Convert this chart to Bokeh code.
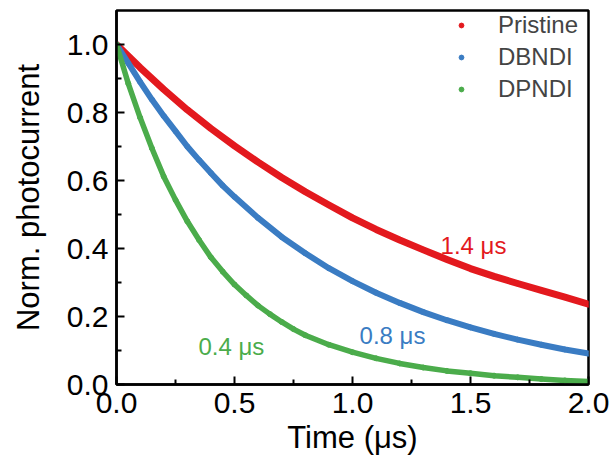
from bokeh.plotting import figure
from bokeh.models import Range1d, FixedTicker, Legend, LegendItem, Label
from bokeh.embed import file_html
from bokeh.resources import INLINE

# ---- data ----
t_red = [0.0, 0.1, 0.2, 0.3, 0.4, 0.5, 0.6, 0.7, 0.8, 0.9, 1.0,
         1.1, 1.2, 1.3, 1.4, 1.5, 1.6, 1.7, 1.8, 1.9, 2.0]
v_red = [1.000, 0.932, 0.868, 0.808, 0.753, 0.702, 0.654, 0.609, 0.567, 0.528, 0.490,
         0.456, 0.425, 0.396, 0.368, 0.341, 0.318, 0.297, 0.277, 0.257, 0.236]

t_blue = [0.0, 0.05, 0.1, 0.15, 0.2, 0.25, 0.3, 0.35, 0.4, 0.45, 0.5,
          0.6, 0.7, 0.8, 0.9, 1.0, 1.1, 1.2, 1.3, 1.4, 1.5, 1.6, 1.7, 1.8, 1.9, 2.0]
v_blue = [1.000, 0.945, 0.890, 0.838, 0.790, 0.745, 0.700, 0.660, 0.622, 0.585, 0.552,
          0.490, 0.434, 0.386, 0.342, 0.304, 0.270, 0.240, 0.213, 0.189, 0.168,
          0.149, 0.132, 0.117, 0.103, 0.091]

t_green = [0.0, 0.05, 0.1, 0.15, 0.2, 0.25, 0.3, 0.35, 0.4, 0.45, 0.5, 0.55, 0.6,
           0.65, 0.7, 0.75, 0.8, 0.9, 1.0, 1.1, 1.2, 1.3, 1.4, 1.5, 1.6, 1.7, 1.8, 1.9, 2.0]
v_green = [1.000, 0.885, 0.785, 0.695, 0.612, 0.543, 0.480, 0.425, 0.374, 0.332, 0.294,
           0.262, 0.232, 0.207, 0.184, 0.163, 0.145, 0.117, 0.095, 0.077, 0.062, 0.050,
           0.040, 0.033, 0.026, 0.021, 0.016, 0.012, 0.009]

series_names = ["Pristine", "DBNDI", "DPNDI"]
series_colors = ["#e3191e", "#3a7cc3", "#4bac4b"]

x_ticks = [0.0, 0.5, 1.0, 1.5, 2.0]
x_minor = [0.25, 0.75, 1.25, 1.75]
y_ticks = [0.0, 0.2, 0.4, 0.6, 0.8, 1.0]
y_minor = [0.1, 0.3, 0.5, 0.7, 0.9]

lifetime_labels = ["1.4 μs", "0.8 μs", "0.4 μs"]
lifetime_x = [1.373, 1.03, 0.347]
lifetime_y = [0.41, 0.144, 0.112]

FONT = "Liberation Sans"

p = figure(frame_width=472, frame_height=374,
           min_border_left=116, min_border_right=26,
           min_border_top=10, min_border_bottom=84,
           x_range=Range1d(0, 2.0), y_range=Range1d(0, 1.1),
           output_backend="svg", toolbar_location=None,
           background_fill_color="white", border_fill_color="white")

p.grid.visible = False
p.outline_line_color = "black"
p.outline_line_width = 2.5
p.outline_line_alpha = 1.0

p.xaxis.ticker = FixedTicker(ticks=x_ticks, minor_ticks=x_minor)
p.yaxis.ticker = FixedTicker(ticks=y_ticks, minor_ticks=y_minor)
p.xaxis.major_label_overrides = {v: f"{v:.1f}" for v in x_ticks}
p.yaxis.major_label_overrides = {v: f"{v:.1f}" for v in y_ticks}

for ax in (p.xaxis, p.yaxis):
    ax.axis_line_width = 2.5
    ax.major_tick_in = 8
    ax.major_tick_out = 0
    ax.minor_tick_in = 5
    ax.minor_tick_out = 0
    ax.major_tick_line_width = 2
    ax.minor_tick_line_width = 2
    ax.major_label_text_font = FONT
    ax.major_label_text_font_size = "30px"
    ax.major_label_text_color = "black"
    ax.axis_label_text_font = FONT
    ax.axis_label_text_font_size = "31px"
    ax.axis_label_text_font_style = "normal"
    ax.axis_label_text_color = "black"
    ax.major_label_standoff = 8

p.xaxis.axis_label = "Time (μs)"
p.yaxis.axis_label = "Norm. photocurrent"
p.xaxis.axis_label_standoff = 4
p.yaxis.axis_label_standoff = 18

widths = [7, 6, 5.5]
dots = []
for (tx, vy), col, w in zip([(t_red, v_red), (t_blue, v_blue), (t_green, v_green)],
                            series_colors, widths):
    p.line(tx, vy, line_color=col, line_width=w, line_join="round", line_cap="round")
    s = p.scatter(tx, vy, marker="circle", size=5, fill_color=col, line_color=col)
    dots.append(s)

items = [LegendItem(label=name, renderers=[s]) for name, s in zip(series_names, dots)]

legend = Legend(items=items, location=(339, 281),
                label_text_font=FONT, label_text_font_size="24px",
                label_height=27, glyph_height=12, glyph_width=12,
                label_standoff=31, spacing=4, padding=0, margin=0,
                border_line_color=None, background_fill_alpha=0)
p.add_layout(legend)

for txt, lx, ly, col in zip(lifetime_labels, lifetime_x, lifetime_y, series_colors):
    p.add_layout(Label(x=lx, y=ly, text=txt, text_color=col,
                       text_font=FONT, text_font_size="24px",
                       text_baseline="alphabetic", text_align="left"))

open("out.html", "w").write(file_html(p, INLINE))
